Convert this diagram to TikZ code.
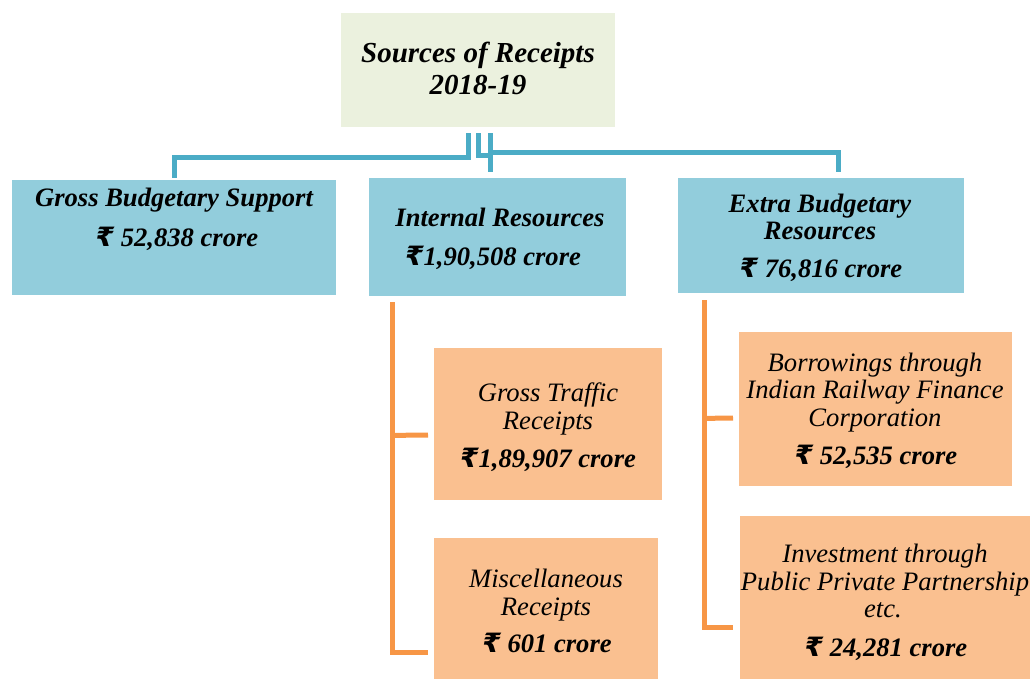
\documentclass[tikz,border=0pt]{standalone}
\usepackage{fontspec}
\setmainfont{Liberation Serif}
\newfontfamily\rfont{DejaVu Sans}
\newcommand\rs{{\rfont\bfseries ₹}}
\usetikzlibrary{calc}
\definecolor{topfill}{HTML}{EBF1DE}
\definecolor{bluefill}{HTML}{92CDDC}
\definecolor{orfill}{HTML}{FAC090}
\definecolor{bluel}{HTML}{4BACC6}
\definecolor{orl}{HTML}{F79646}
\tikzset{
  box/.style={draw=none, anchor=north west, inner sep=0pt},
  topbox/.style={box, fill=topfill},
  bbox/.style={box, fill=bluefill},
  obox/.style={box, fill=orfill},
  bt/.style={anchor=base, inner sep=0pt, font=\fontsize{26.6}{30}\selectfont\bfseries\itshape},
  tt/.style={anchor=base, inner sep=0pt, font=\fontsize{29}{33}\selectfont\bfseries\itshape},
  it/.style={anchor=base, inner sep=0pt, font=\fontsize{26.6}{30}\selectfont\itshape},
  bline/.style={draw=bluel, line width=5pt},
  oline/.style={draw=orl, line width=5pt}
}
\begin{document}
\begin{tikzpicture}[x=1pt,y=-1pt]
\useasboundingbox (0,0) rectangle (1030,679);
% boxes
\node[topbox, minimum width=274pt, minimum height=114pt] (top) at (341,13) {};
\node[bbox, minimum width=324pt, minimum height=115pt] (gbs) at (12,180) {};
\node[bbox, minimum width=257pt, minimum height=118pt] (ir) at (369,178) {};
\node[bbox, minimum width=286pt, minimum height=115pt] (ebr) at (678,178) {};
\node[obox, minimum width=228pt, minimum height=152pt] (gtr) at (434,348) {};
\node[obox, minimum width=224pt, minimum height=141pt] (misc) at (434,538) {};
\node[obox, minimum width=273pt, minimum height=154pt] (bor) at (739,332) {};
\node[obox, minimum width=290pt, minimum height=163pt] (inv) at (740,516) {};
% texts
\node[tt] (t1) at (478,63) {Sources of Receipts};
\node[tt] (t2) at (478,95) {2018-19};
\node[bt] (g1) at (174,207) {Gross Budgetary Support};
\node[bt] (g2) at (177,246) {\rs\ 52,838 crore};
\node[bt] (i1) at (500,226) {Internal Resources};
\node[bt] (i2) at (493,265) {\rs1,90,508 crore};
\node[bt] (e1) at (820,212) {Extra Budgetary};
\node[bt] (e2) at (820,239) {Resources};
\node[bt] (e3) at (821,277) {\rs\ 76,816 crore};
\node[it] (r1) at (548,401) {Gross Traffic};
\node[it] (r2) at (548,429) {Receipts};
\node[bt] (r3) at (548,467) {\rs1,89,907 crore};
\node[it] (m1) at (546,587) {Miscellaneous};
\node[it] (m2) at (546,615) {Receipts};
\node[bt] (m3) at (547,652) {\rs\ 601 crore};
\node[it] (b1) at (875,371) {Borrowings through};
\node[it] (b2) at (875,398) {Indian Railway Finance};
\node[it] (b3) at (875,426) {Corporation};
\node[bt] (b4) at (876,464) {\rs\ 52,535 crore};
\node[it] (v1) at (885,562) {Investment through};
\node[it] (v2) at (885,590) {Public Private Partnership};
\node[it] (v3) at (883,617) {etc.};
\node[bt] (v4) at (886,656) {\rs\ 24,281 crore};
% blue connectors
\draw[bline] ($(top.south)+(-10,6)$) -- ++(0,24) -| ($(gbs.north west)+(162,-2)$);
\draw[bline] ($(top.south)+(0,6)$) -- ++(0,22) -| ($(ir.north)+(-7,-6)$);
\draw[bline] ($(top.south)+(12,6)$) -- ++(0,19) -| ($(ebr.north)+(17,-6)$);
% orange connectors
\draw[oline] ($(ir.south west)+(23,6)$) |- ($(misc.north west)+(-6,114)$);
\draw[oline] ($(ir.south west)+(23,139)$) -- ($(gtr.north west)+(-6,87)$);
\draw[oline] ($(ebr.south west)+(26,7)$) |- ($(inv.north west)+(-7,111)$);
\draw[oline] ($(ebr.south west)+(26,125)$) -- ($(bor.north west)+(-6,86)$);
\end{tikzpicture}
\end{document}
